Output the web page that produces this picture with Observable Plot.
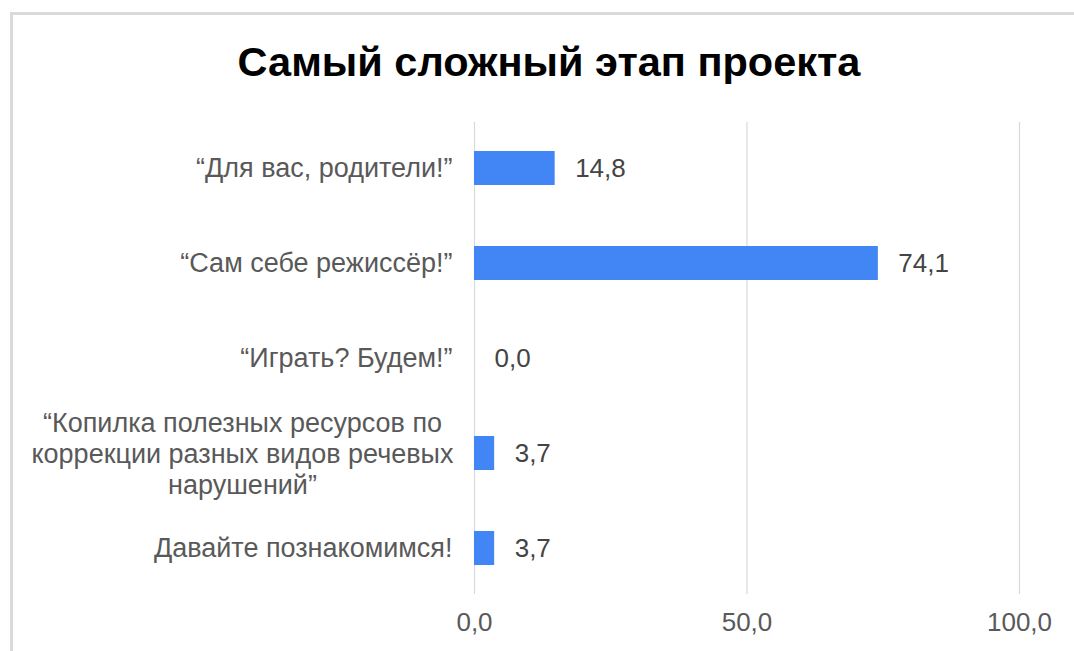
<!DOCTYPE html>
<html>
<head>
<meta charset="utf-8">
<script src="https://cdn.jsdelivr.net/npm/d3@7"></script>
<script src="https://cdn.jsdelivr.net/npm/@observablehq/plot@0.6"></script>
<style>
  html, body { margin: 0; padding: 0; background: #fff; }
  body { width: 1074px; height: 651px; overflow: hidden; position: relative; font-family: "Liberation Sans", Arial, sans-serif; }
  #frame { position: absolute; left: 10px; top: 12px; width: 1100px; height: 700px; border-left: 3px solid #dadada; border-top: 3px solid #dadada; }
  #title { position: absolute; left: 12px; width: 1074px; top: 41px; line-height: 42px; font-size: 41.5px; font-weight: bold; color: #000; text-align: center; }
  #chart { position: absolute; left: 0; top: 108px; }
</style>
</head>
<body>
<div id="frame"></div>
<div id="title">Самый сложный этап проекта</div>
<div id="chart"></div>
<script>
const categories = [
  "“Для вас, родители!”",
  "“Сам себе режиссёр!”",
  "“Играть? Будем!”",
  "“Копилка полезных ресурсов по\nкоррекции разных видов речевых\nнарушений”",
  "Давайте познакомимся!"
];
const values = [14.8, 74.1, 0.0, 3.7, 3.7];
const xTicks = [0, 50, 100];

const data = categories.map((c, i) => ({category: c, value: values[i], multi: c.includes("\n")}));
const fmt = v => d3.format(".1f")(v).replace(".", ",");

const chart = Plot.plot({
  width: 1074,
  height: 543,
  marginLeft: 474,
  marginRight: 55,
  marginTop: 14,
  marginBottom: 57,
  style: {fontFamily: "'Liberation Sans', Arial, sans-serif", fontSize: "26px", background: "transparent"},
  x: {domain: [0, 100], axis: null, label: null},
  y: {domain: categories, paddingInner: 0.64, paddingOuter: 0.3, axis: null, label: null},
  marks: [
    Plot.ruleX(xTicks, {stroke: "#d9d9d9", strokeWidth: 1.2}),
    Plot.barX(data, {y: "category", x: "value", fill: "#4285f4"}),
    Plot.text(data, {y: "category", x: "value", text: d => fmt(d.value), textAnchor: "start", dx: 20, fill: "#444", fontSize: 26}),
    Plot.text(data.filter(d => !d.multi), {y: "category", x: () => 0, text: "category", textAnchor: "end", dx: -22, fill: "#595959", fontSize: 27}),
    Plot.text(data.filter(d => d.multi), {y: "category", x: () => 0, text: "category", textAnchor: "middle", dx: -232, lineHeight: 1.15, fill: "#595959", fontSize: 27}),
    Plot.axisX(xTicks, {tickSize: 0, tickPadding: 18, tickFormat: fmt, fill: "#595959", fontSize: 26, anchor: "bottom", label: null})
  ]
});
document.getElementById("chart").appendChild(chart);
</script>
</body>
</html>
